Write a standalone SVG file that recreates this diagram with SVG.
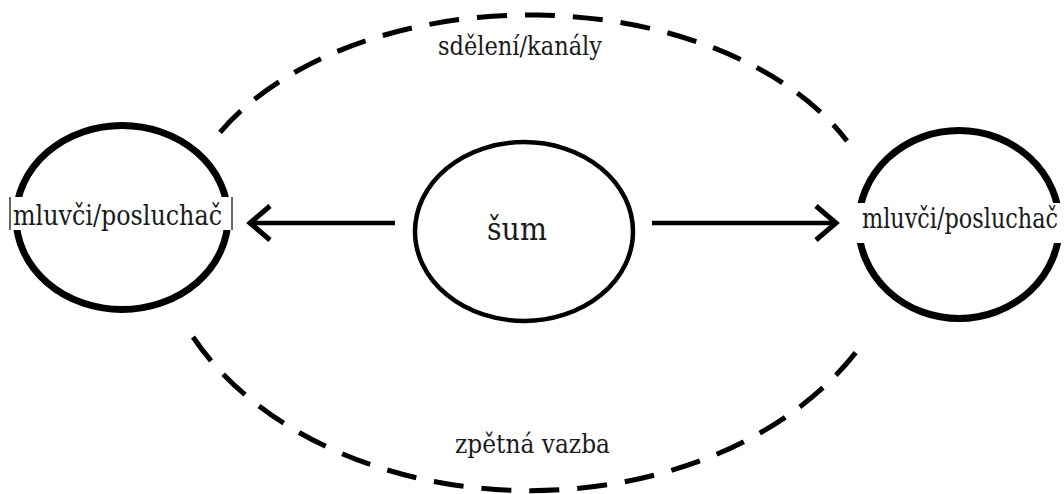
<svg xmlns="http://www.w3.org/2000/svg" width="1064" height="494" viewBox="0 0 1064 494">
  <style>
    text { font-family: "DejaVu Serif", "Liberation Serif", serif; fill: #1a1a1a; }
    .node { fill: none; stroke: #000; }
    .dash { fill: none; stroke: #000; stroke-width: 5; stroke-dasharray: 30 18; }
    .arrow { fill: none; stroke: #000; stroke-width: 4.5; }
    .box { fill: #fff; stroke: none; }
  </style>
  <defs>
    <marker id="chev" markerUnits="userSpaceOnUse" markerWidth="40" markerHeight="50" viewBox="-30 -25 40 50" refX="0" refY="0" orient="auto">
      <path d="M -20 -17 L 0 0 L -20 17" fill="none" stroke="#000" stroke-width="5"/>
    </marker>
  </defs>
  <rect x="0" y="0" width="1064" height="494" fill="#fff"/>

  <g id="connectors">
    <path class="dash" d="M 220 132.4 A 353 225 0 0 1 847 141"/>
    <path class="dash" d="M 193 337 A 376 276 0 0 0 860 347"/>
    <line class="arrow" x1="395" y1="223" x2="250" y2="223" marker-end="url(#chev)"/>
    <line class="arrow" x1="652" y1="223" x2="836" y2="223" marker-end="url(#chev)"/>
  </g>

  <g id="label-top">
    <text x="438" y="55" font-size="26" textLength="164" lengthAdjust="spacingAndGlyphs">sdělení/kanály</text>
  </g>
  <g id="label-bottom">
    <text x="455" y="453" font-size="26" textLength="155" lengthAdjust="spacingAndGlyphs">zpětná vazba</text>
  </g>

  <g id="node-left">
    <ellipse class="node" cx="122" cy="217.5" rx="106" ry="92" stroke-width="7"/>
    <rect class="box" x="10" y="197" width="222" height="33"/>
    <line x1="10" y1="197" x2="10" y2="230" stroke="#333" stroke-width="1.5"/>
    <line x1="232" y1="197" x2="232" y2="230" stroke="#333" stroke-width="1.5"/>
    <text x="13" y="225" font-size="28" textLength="209" lengthAdjust="spacingAndGlyphs">mluvči/posluchač</text>
  </g>

  <g id="node-center">
    <ellipse class="node" cx="524" cy="231.5" rx="109" ry="89.5" stroke-width="4.5"/>
    <text x="487" y="240" font-size="32" textLength="60" lengthAdjust="spacingAndGlyphs">šum</text>
  </g>

  <g id="node-right">
    <ellipse class="node" cx="959" cy="224.5" rx="100.5" ry="94" stroke-width="7"/>
    <rect class="box" x="852" y="203" width="212" height="40"/>
    <text x="862" y="228" font-size="28" textLength="196" lengthAdjust="spacingAndGlyphs">mluvči/posluchač</text>
  </g>
</svg>
